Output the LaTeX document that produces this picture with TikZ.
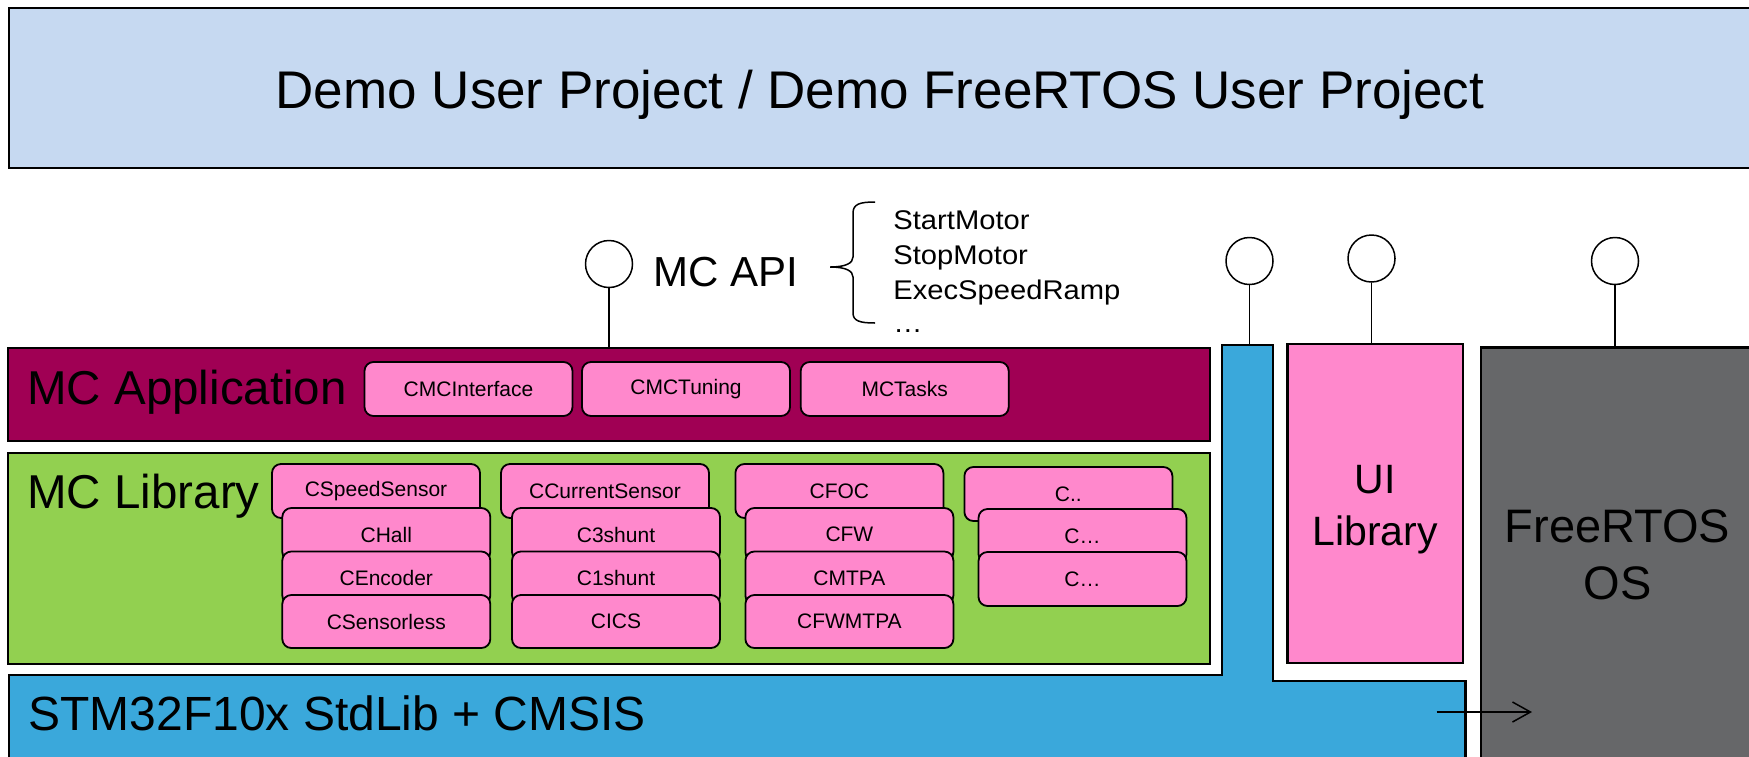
\documentclass[tikz,border=0pt]{standalone}
\usepackage{fontspec}
\usepackage{graphicx}
\setmainfont{Liberation Sans}
\usetikzlibrary{arrows.meta}
\definecolor{topblue}{RGB}{198,217,241}
\definecolor{appred}{RGB}{160,0,84}
\definecolor{libgreen}{RGB}{146,208,80}
\definecolor{pinkc}{RGB}{255,136,204}
\definecolor{stmblue}{RGB}{58,168,219}
\definecolor{osgray}{RGB}{102,103,105}
\newcommand{\myfs}[1]{\fontsize{#1pt}{#1pt}\selectfont}
\newcommand{\wide}[1]{\scalebox{1.08}[1]{#1}}
\begin{document}
\begin{tikzpicture}[x=0.5pt,y=-0.5pt,
  outer/.style={draw=black, line width=1.1pt, inner sep=0pt, anchor=center},
  pbox/.style={draw=black, fill=pinkc, line width=0.9pt, rounded corners=4.5pt,
    minimum width=104pt, minimum height=27pt, inner sep=0pt, font=\myfs{10.5}},
  sbox/.style={pbox, minimum height=26.5pt},
  ifc/.style={draw=black, fill=white, circle, line width=0.75pt, minimum size=23.5pt, inner sep=0pt},
  stem/.style={line width=0.75pt},
  lbl/.style={inner sep=0pt, anchor=base west},
  clbl/.style={inner sep=0pt, anchor=base}
]
\useasboundingbox (0,0) rectangle (1749,756);
\clip (0,0) rectangle (1749,756);

% top box
\node[outer, fill=topblue, minimum width=880.5pt, minimum height=80pt] (top) at (889.5,88) {};
\node[clbl, font=\myfs{26.5}] (title) at (880,108) {Demo User Project / Demo FreeRTOS User Project};

% STM blue shape
\filldraw[fill=stmblue, draw=black, line width=1.1pt]
  (9,775) -- (9,675) -- (1222,675) -- (1222,345) -- (1273,345) -- (1273,681)
  -- (1465.5,681) -- (1465.5,775) -- cycle;
\coordinate (bluetop) at (1249.5,345);
\node[lbl, font=\myfs{24}] (stm) at (28,730) {STM32F10x StdLib + CMSIS};

% MC Application
\node[outer, fill=appred, minimum width=601pt, minimum height=46.5pt] (app) at (609,394.5) {};
\node[lbl, font=\myfs{23.75}] (applbl) at (27,404) {MC Application};
\node[pbox] (cmci) at (468.5,389) {CMCInterface};
\node[pbox] (cmct) at (686,389) {CMCTuning};
\node[pbox] (mct) at (904.7,389) {MCTasks};

% MC Library
\node[outer, fill=libgreen, minimum width=601pt, minimum height=105.65pt] (lib) at (609,558.35) {};
\node[lbl, font=\myfs{23.75}] (liblbl) at (27,508) {MC Library};
% column 1
\node[pbox] (css) at (376,491) {CSpeedSensor};
\node[sbox] (chall) at (386.3,534.5) {CHall};
\node[sbox] (cenc) at (386.3,578) {CEncoder};
\node[sbox] (csl) at (386.3,621.5) {CSensorless};
% column 2
\node[pbox] (ccs) at (605,491) {CCurrentSensor};
\node[sbox] (c3s) at (616,534.5) {C3shunt};
\node[sbox] (c1s) at (616,578) {C1shunt};
\node[sbox] (cics) at (616,621.5) {CICS};
% column 3
\node[pbox] (cfoc) at (839.4,491) {CFOC};
\node[sbox] (cfw) at (849.4,534.5) {CFW};
\node[sbox] (cmtpa) at (849.4,578) {CMTPA};
\node[sbox] (cfwm) at (849.4,621.5) {CFWMTPA};
% column 4
\node[pbox] (cx0) at (1068.4,494) {C..};
\node[pbox] (cx1) at (1082.5,536) {C…};
\node[pbox] (cx2) at (1082.5,579) {C…};

% UI Library
\node[outer, fill=pinkc, minimum width=87.75pt, minimum height=159.5pt] (ui) at (1375.25,503.5) {};
\node[clbl, font=\myfs{20.5}] (uil1) at (1375,493) {UI};
\node[clbl, font=\myfs{20.5}] (uil2) at (1375,545) {Library};

% FreeRTOS
\node[outer, fill=osgray, minimum width=144.5pt, minimum height=212.5pt] (os) at (1625.5,560) {};
\node[clbl, font=\myfs{23.5}] (osl1) at (1617.5,542) {FreeRTOS};
\node[clbl, font=\myfs{23.5}] (osl2) at (1617.5,599) {OS};

% interfaces
\node[ifc] (apic) at (609,264) {};
\node[ifc] (bluec) at (1249.5,261) {};
\node[ifc] (uic) at (1371.5,258.5) {};
\node[ifc] (osc) at (1615,261) {};
\draw[stem] (apic.south) -- (apic.south |- app.north);
\draw[stem] (bluec.south) -- (bluetop);
\draw[stem] (uic.south) -- (uic.south |- ui.north);
\draw[stem] (osc.south) -- (osc.south |- os.north);

\node[lbl, font=\myfs{21}] (api) at (653,286) {MC API};
\draw[line width=0.75pt] (875,202) .. controls (860,202) and (853,204) .. (853,213)
  -- (853,257) .. controls (853,263) and (846,267) .. (830,267)
  .. controls (846,267) and (853,271) .. (853,277)
  -- (853,313) .. controls (853,321) and (860,323) .. (875,323);
\node[lbl, font=\myfs{13.5}] (f1) at (893,229.5) {\wide{StartMotor}};
\node[lbl, font=\myfs{13.5}] (f2) at (893,264.5) {\wide{StopMotor}};
\node[lbl, font=\myfs{13.5}] (f3) at (893,299.5) {\wide{ExecSpeedRamp}};
\node[lbl, font=\myfs{13.5}] (f4) at (893,332.5) {\wide{…}};

% arrow
\coordinate (arrS) at (1436.5,712);
\coordinate (arrE) at (1532,712);
\draw[line width=0.75pt, -{Straight Barb[length=9pt,width=10pt]}] (arrS) -- (arrE);
\end{tikzpicture}
\end{document}
